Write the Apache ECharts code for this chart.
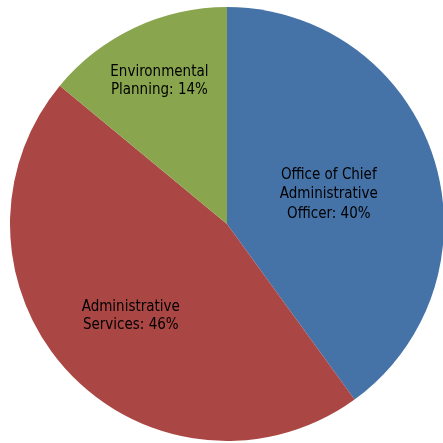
<!DOCTYPE html>
<html><head><meta charset="utf-8">
<style>html,body{margin:0;padding:0;background:#fff}#c{width:443px;height:443px}</style>
<script src="https://cdn.jsdelivr.net/npm/echarts@6/dist/echarts.min.js"></script>
</head><body><div id="c"></div>
<script>
var categories = ['Office of Chief\nAdministrative\nOfficer', 'Administrative\nServices', 'Environmental\nPlanning'];
var values = [40, 46, 14];
var colors = ['#4572A7', '#AA4643', '#89A54E'];
var labelRadial = [0.96, 1.184, 1.424];
var labelShiftY = [3.5, 1.5, 1];
var labelLineHeights = [19.5, 18.3, 17.5];

var center = [227, 224];
var chart = echarts.init(document.getElementById('c'));
chart.setOption({
  animation: false,
  series: [{
    type: 'pie',
    center: center,
    radius: [0, 217],
    startAngle: 90,
    clockwise: true,
    avoidLabelOverlap: false,
    data: categories.map(function (c, i) {
      return { name: c, value: values[i], itemStyle: { color: colors[i] },
               label: { lineHeight: labelLineHeights[i] } };
    }),
    itemStyle: { borderWidth: 0 },
    label: {
      show: true,
      position: 'inside',
      formatter: function (p) { return p.name + ': ' + p.value + '%'; },
      fontFamily: "'DejaVu Sans Condensed', 'DejaVu Sans'",
      fontSize: 15,
      color: '#000',
      align: 'center'
    },
    labelLine: { show: false },
    labelLayout: function (p) {
      var r = p.labelRect;
      var cx = r.x + r.width / 2, cy = r.y + r.height / 2;
      var f = labelRadial[p.dataIndex];
      return {
        x: center[0] + (cx - center[0]) * f,
        y: center[1] + (cy - center[1]) * f + labelShiftY[p.dataIndex],
        align: 'center',
        verticalAlign: 'middle'
      };
    }
  }]
});
</script></body></html>
